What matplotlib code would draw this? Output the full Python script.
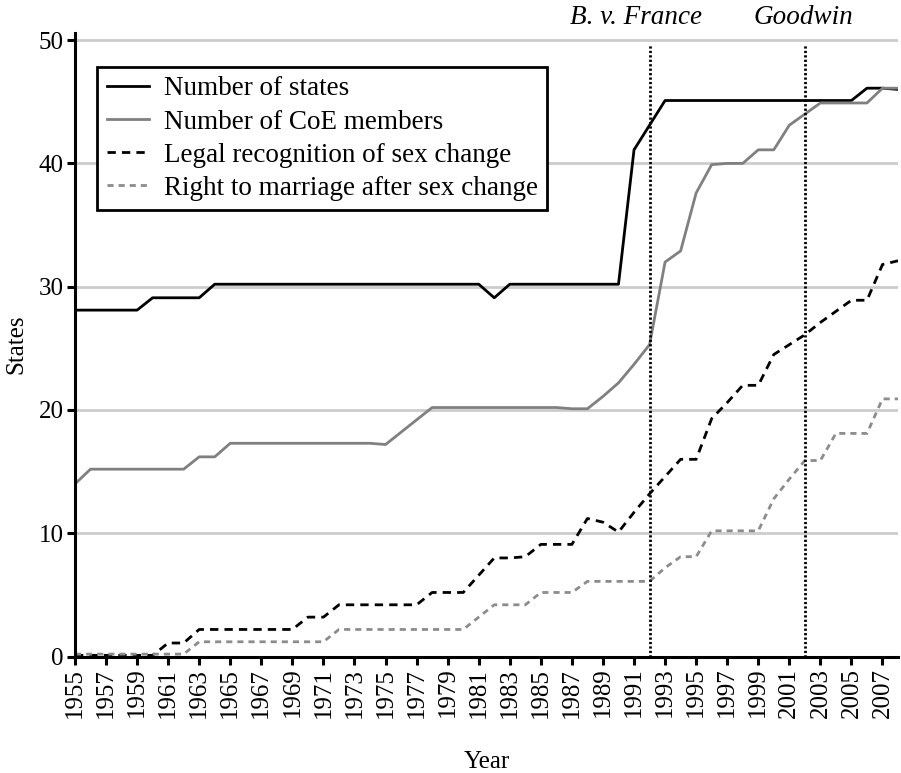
import matplotlib
matplotlib.use('Agg')
from matplotlib import pyplot as plt
from matplotlib import transforms
import numpy as np

plt.rcParams['font.family'] = ['Liberation Serif', 'DejaVu Serif']

my_fontsize = 18
legend_fontsize = 19.5

# data ---------------------------------------------------------------------
years = list(range(1955, 2009))

states = [28.1, 28.1, 28.1, 28.1, 28.1,                     # 1955-1959
          29.1, 29.1, 29.1, 29.1,                           # 1960-1963
          30.2, 30.2, 30.2, 30.2, 30.2, 30.2, 30.2, 30.2,   # 1964-1971
          30.2, 30.2, 30.2, 30.2, 30.2, 30.2, 30.2, 30.2,   # 1972-1979
          30.2, 30.2, 29.1, 30.2, 30.2, 30.2, 30.2, 30.2,   # 1980-1987
          30.2, 30.2, 30.2, 41.1, 43.1, 45.1, 45.1, 45.1,   # 1988-1995
          45.1, 45.1, 45.1, 45.1, 45.1, 45.1, 45.1, 45.1,   # 1996-2003
          45.1, 45.1, 46.1, 46.1, 46.0]                     # 2004-2008

coe_members = [14.0, 15.2, 15.2, 15.2, 15.2, 15.2, 15.2, 15.2,  # 1955-1962
               16.2, 16.2, 17.3, 17.3, 17.3, 17.3, 17.3, 17.3,  # 1963-1970
               17.3, 17.3, 17.3, 17.3, 17.2, 18.2, 19.2, 20.2,  # 1971-1978
               20.2, 20.2, 20.2, 20.2, 20.2, 20.2, 20.2, 20.2,  # 1979-1986
               20.1, 20.1, 21.1, 22.2, 23.7, 25.3, 32.0, 32.9,  # 1987-1994
               37.6, 39.9, 40.0, 40.0, 41.1, 41.1, 43.1, 44.0,  # 1995-2002
               44.9, 44.9, 44.9, 44.9, 46.1, 46.1]              # 2003-2008

legal_recognition = [0.1, 0.1, 0.1, 0.1, 0.1, 0.1, 1.1, 1.1,     # 1955-1962
                     2.2, 2.2, 2.2, 2.2, 2.2, 2.2, 2.2, 3.2,     # 1963-1970
                     3.2, 4.2, 4.2, 4.2, 4.2, 4.2, 4.2, 5.2,     # 1971-1978
                     5.2, 5.2, 6.6, 8.0, 8.0, 8.1, 9.1, 9.1,     # 1979-1986
                     9.1, 11.2, 10.9, 10.1, 11.7, 13.2, 14.6, 16.0,  # 1987-1994
                     16.0, 19.3, 20.6, 22.0, 22.0, 24.5, 25.3, 26.1,  # 1995-2002
                     27.1, 28.0, 28.9, 28.9, 31.8, 32.1]         # 2003-2008

marriage = [0.2, 0.2, 0.2, 0.2, 0.2, 0.2, 0.2, 0.2,    # 1955-1962
            1.2, 1.2, 1.2, 1.2, 1.2, 1.2, 1.2, 1.2,    # 1963-1970
            1.2, 2.2, 2.2, 2.2, 2.2, 2.2, 2.2, 2.2,    # 1971-1978
            2.2, 2.2, 3.2, 4.2, 4.2, 4.2, 5.2, 5.2,    # 1979-1986
            5.2, 6.1, 6.1, 6.1, 6.1, 6.1, 7.2, 8.1,    # 1987-1994
            8.1, 10.2, 10.2, 10.2, 10.2, 12.8, 14.4, 15.9,  # 1995-2002
            15.9, 18.1, 18.1, 18.1, 20.9, 20.9]        # 2003-2008

SERIES_LABELS = ['Number of states', 'Number of CoE members',
                 'Legal recognition of sex change',
                 'Right to marriage after sex change']

events = [1992, 2002]
event_labels = ['B. v. France', 'Goodwin']
event_label_x = [1991.1, 2001.9]

xtick_years = list(range(1955, 2008, 2))
yticks = [0, 10, 20, 30, 40, 50]

# plot ---------------------------------------------------------------------
fig = plt.figure(figsize=(9.01, 7.73), dpi=100)
ax = fig.add_axes([0.0832, 0.1506, 0.9135, 0.8071])

for y in yticks:
    ax.axhline(y, color='#cccccc', linewidth=2, zorder=0)

lw = 2.0
ax.plot(years, states, color='black', linewidth=lw, label=SERIES_LABELS[0])
ax.plot(years, coe_members, color='#808080', linewidth=lw, label=SERIES_LABELS[1])
ax.plot(years, legal_recognition, color='black', linewidth=lw,
        dashes=(3, 2.2), label=SERIES_LABELS[2])
ax.plot(years, marriage, color='#8c8c8c', linewidth=lw,
        dashes=(2.2, 1.8), label=SERIES_LABELS[3])

trans = transforms.blended_transform_factory(ax.transData, fig.transFigure)
for ev, lab, lx in zip(events, event_labels, event_label_x):
    ax.vlines(ev, 0, 49.6, color='black', linewidth=2.0,
              linestyles=(0, (0.8, 0.8)), zorder=3)
    ax.text(lx, 0.994, lab, ha='center', va='top', style='italic',
            fontsize=legend_fontsize, transform=trans, clip_on=False)

ax.set_xlim(1955, 2008)
ax.set_ylim(0, 50.6)

ax.spines['top'].set_visible(False)
ax.spines['right'].set_visible(False)
ax.spines['left'].set_linewidth(2.2)
ax.spines['bottom'].set_linewidth(2.2)

ax.set_xticks(xtick_years)
ax.set_xticklabels([str(y) for y in xtick_years], rotation=90,
                   fontsize=my_fontsize)
ax.set_yticks(yticks)
ax.set_yticklabels([str(y) for y in yticks], fontsize=my_fontsize)
ax.tick_params(direction='out', length=6, width=2.2, pad=2)

ax.set_xlabel('Year', fontsize=my_fontsize, labelpad=24)
ax.set_ylabel('States', fontsize=my_fontsize, labelpad=8)

leg = ax.legend(loc='upper left', bbox_to_anchor=(0.027, 0.945),
                borderaxespad=0, fontsize=legend_fontsize, fancybox=False,
                framealpha=1, edgecolor='black', handlelength=1.55,
                borderpad=0.35, labelspacing=0.3, handletextpad=0.55)
leg.get_frame().set_linewidth(2.0)

plt.savefig('out.png', dpi=100)
